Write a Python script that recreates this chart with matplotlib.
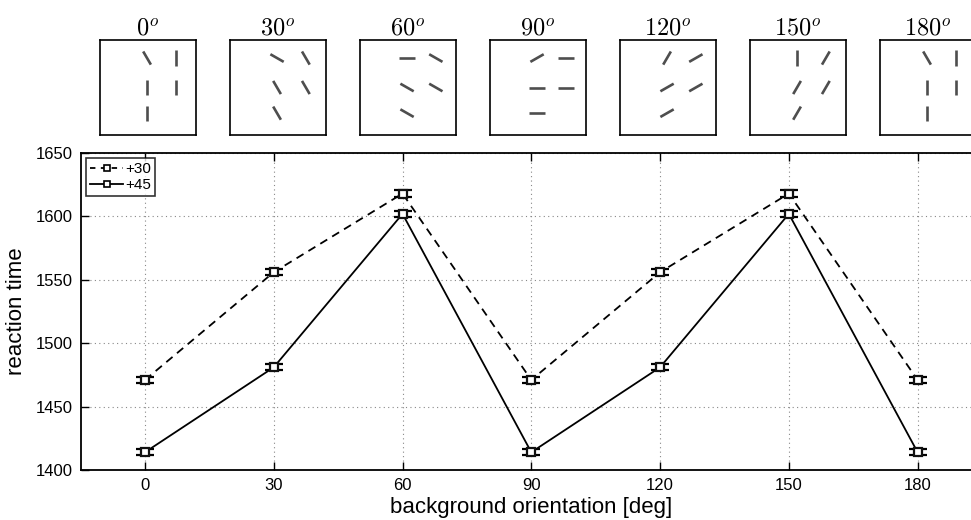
import numpy as np
import matplotlib
matplotlib.use("Agg")
import matplotlib.pyplot as plt
from matplotlib.lines import Line2D

# ---- data ----
orientations = [0, 30, 60, 90, 120, 150, 180]
rt_plus30 = [1471, 1556, 1618, 1471, 1556, 1618, 1471]
rt_plus45 = [1414, 1481, 1602, 1414, 1481, 1602, 1414]
err_plus30 = [2.5, 2.5, 2.5, 2.5, 2.5, 2.5, 2.5]
err_plus45 = [2.5, 2.5, 2.5, 2.5, 2.5, 2.5, 2.5]
series_labels = ["+30", "+45"]
panel_titles = [r"$0^o$", r"$30^o$", r"$60^o$", r"$90^o$", r"$120^o$", r"$150^o$", r"$180^o$"]
target_offset = 30
# stimulus element grid positions (col, row) in panel fraction
elem_x = [0.49, 0.79, 0.49, 0.79, 0.49]
elem_y = [0.81, 0.81, 0.50, 0.50, 0.23]

plt.rcParams['font.family'] = ['Liberation Sans', 'DejaVu Sans']
plt.rcParams['mathtext.fontset'] = 'cm'

W, H = 971, 520
fig = plt.figure(figsize=(W / 100, H / 100), dpi=100)

# main axes (extends slightly past right edge as in reference)
left_px, right_px, top_px, bot_px = 80.6, 982, 153, 470
ax = fig.add_axes([left_px / W, 1 - bot_px / H, (right_px - left_px) / W, (bot_px - top_px) / H])

dash = (4.5, 3.2)
common = dict(color='black', lw=1.3, marker='s', ms=5.5, mfc='white', mec='#111111', mew=1.6,
              capsize=6.5, capthick=2.6, elinewidth=2.0)
ax.errorbar(orientations, rt_plus30, yerr=err_plus30, ls='--', dashes=dash, **common)
ax.errorbar(orientations, rt_plus45, yerr=err_plus45, ls='-', **common)

ax.set_xlim(-15, 195)
ax.set_ylim(1400, 1650)
ax.set_xticks(orientations)
ax.set_yticks([1400, 1450, 1500, 1550, 1600, 1650])
ax.tick_params(direction='in', length=6, width=1, labelsize=12, top=True, right=True, pad=6)
ax.grid(True, ls=(0, (1, 3)), color='#888888', lw=0.8)
for s in ax.spines.values():
    s.set_linewidth(1.3)
ax.set_xlabel('background orientation [deg]', fontsize=16, labelpad=3)
ax.set_ylabel('reaction time', fontsize=16, labelpad=6)

handles = [Line2D([], [], color='black', lw=1.3, ls='--', dashes=(3, 3), marker='s', ms=5,
                  mfc='white', mec='black', mew=1.2),
           Line2D([], [], color='black', lw=1.3, ls='-', marker='s', ms=5,
                  mfc='white', mec='black', mew=1.2)]
leg = ax.legend(handles, series_labels, loc='upper left', fontsize=11, frameon=True,
                fancybox=False, edgecolor='black', handlelength=2.2, borderaxespad=0.35,
                borderpad=0.25, labelspacing=0.15, handletextpad=0.1)
leg.get_frame().set_linewidth(1.2)

# stimulus panels
box_w, box_h = 96, 95
for i, (ori, title) in enumerate(zip(orientations, panel_titles)):
    bl = 100 + 130 * i
    iax = fig.add_axes([bl / W, 1 - 135 / H, box_w / W, box_h / H])
    iax.set_xlim(0, 1)
    iax.set_ylim(0, 1)
    iax.set_xticks([])
    iax.set_yticks([])
    for s in iax.spines.values():
        s.set_linewidth(1.2)
    L = 0.16
    for k, (cx, cy) in enumerate(zip(elem_x, elem_y)):
        th = np.deg2rad(ori + target_offset if k == 0 else ori)
        dx = -np.sin(th) * L / 2
        dy = np.cos(th) * L / 2
        iax.plot([cx - dx, cx + dx], [cy - dy, cy + dy], color='#444444', lw=1.9,
                 solid_capstyle='butt', alpha=0.95)
    iax.set_title(title, fontsize=17.5, pad=3)

fig.savefig('out.png', dpi=100)
